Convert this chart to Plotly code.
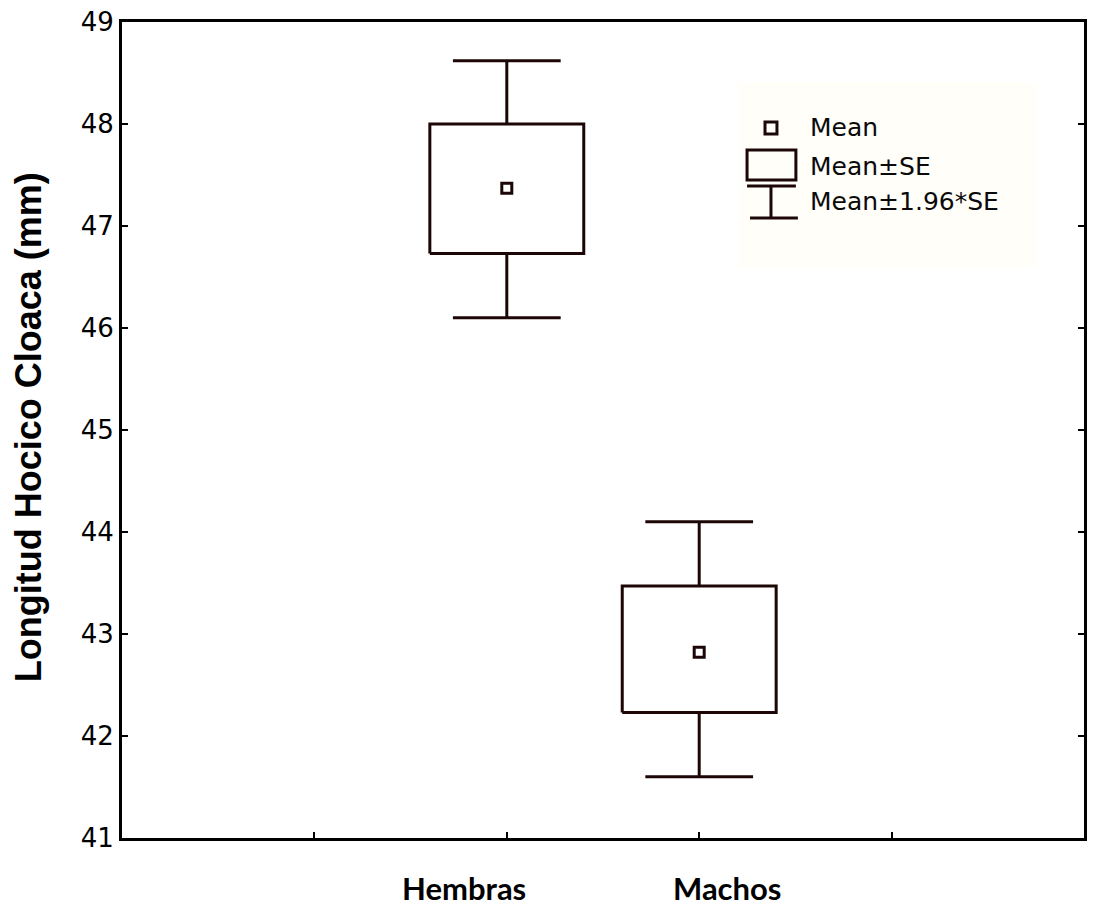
import plotly.graph_objects as go

# Snout-vent length by sex: mean, mean +/- SE, mean +/- 1.96*SE
groups = ["Hembras", "Machos"]
group_x = [2, 3]
means = [47.37, 42.82]
se_low = [46.73, 42.23]
se_high = [48.00, 43.47]
ci_low = [46.10, 41.60]
ci_high = [48.62, 44.10]

y_ticks = [41, 42, 43, 44, 45, 46, 47, 48, 49]
x_ticks = [1, 2, 3, 4]

LINE = "#1c0606"
BOX_HALF = 0.40
CAP_HALF = 0.28

W, H = 1094, 909
M_L, M_R, M_T, M_B = 122, 7, 22, 71
PW, PH = W - M_L - M_R, H - M_T - M_B


def px(xp):
    return (xp - M_L) / PW


def py(yp):
    return (H - M_B - yp) / PH


fig = go.Figure()

for xc, lo, hi, wlo, whi, m in zip(group_x, se_low, se_high, ci_low, ci_high, means):
    # Mean +/- SE box
    fig.add_trace(go.Scatter(
        x=[xc - BOX_HALF, xc + BOX_HALF, xc + BOX_HALF, xc - BOX_HALF, xc - BOX_HALF],
        y=[lo, lo, hi, hi, lo],
        mode="lines", line=dict(color=LINE, width=3), hoverinfo="skip",
    ))
    # Mean +/- 1.96*SE whiskers with caps
    fig.add_trace(go.Scatter(
        x=[xc, xc, None, xc - CAP_HALF, xc + CAP_HALF, None,
           xc, xc, None, xc - CAP_HALF, xc + CAP_HALF],
        y=[hi, whi, None, whi, whi, None, lo, wlo, None, wlo, wlo],
        mode="lines", line=dict(color=LINE, width=3), hoverinfo="skip",
    ))
    # Mean point
    fig.add_trace(go.Scatter(
        x=[xc], y=[m], mode="markers",
        marker=dict(symbol="square-open", size=10, color=LINE, line=dict(width=3, color=LINE)),
    ))

shapes = []
annotations = []

# Legend panel (drawn by hand)
shapes.append(dict(type="rect", xref="paper", yref="paper",
                   x0=px(740), x1=px(1040), y0=py(268), y1=py(82),
                   fillcolor="#fffef9", line=dict(width=0), layer="below"))
shapes.append(dict(type="rect", xref="paper", yref="paper",
                   x0=px(767), x1=px(779), y0=py(134), y1=py(122),
                   line=dict(color=LINE, width=3)))
shapes.append(dict(type="rect", xref="paper", yref="paper",
                   x0=px(749), x1=px(798), y0=py(180), y1=py(150),
                   line=dict(color=LINE, width=3)))
shapes.append(dict(type="line", xref="paper", yref="paper",
                   x0=px(749), x1=px(798), y0=py(186), y1=py(186),
                   line=dict(color=LINE, width=3)))
shapes.append(dict(type="line", xref="paper", yref="paper",
                   x0=px(773), x1=px(773), y0=py(186), y1=py(218),
                   line=dict(color=LINE, width=3)))
shapes.append(dict(type="line", xref="paper", yref="paper",
                   x0=px(752), x1=px(800), y0=py(218), y1=py(218),
                   line=dict(color=LINE, width=3)))

legend_font = dict(family="DejaVu Sans", size=25, color="#0a0a0a")
for label, yc in [("Mean", 128), ("Mean±SE", 166), ("Mean±1.96*SE", 201)]:
    annotations.append(dict(text=label, xref="paper", yref="paper",
                            x=px(810), y=py(yc), xanchor="left", yanchor="middle",
                            showarrow=False, font=legend_font))

# Category labels under the axis
label_pos = [1.78, 3.145]
for name, xl in zip(groups, label_pos):
    annotations.append(dict(text=name, xref="x", yref="paper",
                            x=xl, y=py(888), xanchor="center", yanchor="middle",
                            showarrow=False,
                            font=dict(family="Lato", size=31, color="#000000", weight="bold")))

# Y-axis title
annotations.append(dict(text="Longitud Hocico Cloaca (mm)", xref="paper", yref="paper",
                        x=px(28), y=py(427), xanchor="center", yanchor="middle",
                        textangle=-90, showarrow=False,
                        font=dict(family="Liberation Sans", size=36, color="#000000", weight="bold")))

fig.update_layout(
    width=W, height=H,
    margin=dict(l=M_L, r=M_R, t=M_T, b=M_B),
    paper_bgcolor="white", plot_bgcolor="white",
    showlegend=False,
    shapes=shapes,
    annotations=annotations,
    xaxis=dict(range=[0, 5], tickvals=x_ticks, showticklabels=False,
               ticks="inside", ticklen=6, tickwidth=2, tickcolor="#000000",
               showgrid=False, zeroline=False, showline=True, linecolor="#000000",
               linewidth=3, mirror=True),
    yaxis=dict(range=[41, 49], tickvals=y_ticks,
               ticks="inside", ticklen=6, tickwidth=2, tickcolor="#000000",
               tickfont=dict(family="DejaVu Sans", size=26, color="#000000"),
               showgrid=False, zeroline=False, showline=True, linecolor="#000000",
               linewidth=3, mirror="ticks"),
)

fig.write_html("out.html")
